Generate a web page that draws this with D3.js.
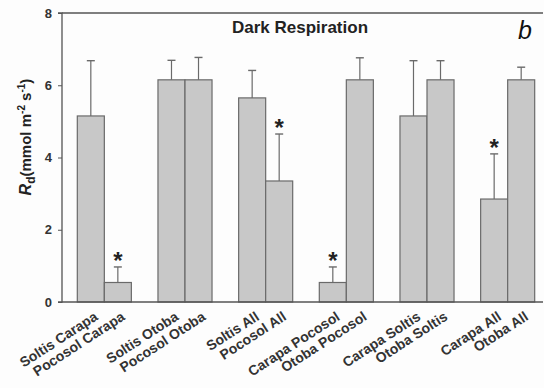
<!DOCTYPE html>
<html><head><meta charset="utf-8">
<script src="https://cdn.jsdelivr.net/npm/d3@7"></script>
<style>body{margin:0;background:#fdfdfd;} text{font-family:Arial,"Liberation Sans",sans-serif;}</style>
</head><body><svg id="c" width="544" height="388"></svg>
<script>
const groups = ["g1","g2","g3","g4","g5","g6"];
const labels = ["Soltis Carapa","Pocosol Carapa","Soltis Otoba","Pocosol Otoba","Soltis All","Pocosol All","Carapa Pocosol","Otoba Pocosol","Carapa Soltis","Otoba Soltis","Carapa All","Otoba All"];
const values = [5.15,0.54,6.15,6.15,5.65,3.35,0.54,6.15,5.15,6.15,2.85,6.15];
const errors = [1.53,0.43,0.54,0.62,0.76,1.30,0.43,0.61,1.53,0.53,1.25,0.35];
const stars  = [false,true,false,false,false,true,true,false,false,false,true,false];
const yTicks = [0,2,4,6,8];

const svg = d3.select("#c");
const pL=62, pR=543, pT=13, pB=302;
const y = d3.scaleLinear().domain([0,8]).range([pB, pT]);
const xg = d3.scaleBand().domain(groups).range([64,548]).paddingInner(0.33).paddingOuter(0.165);
const bw = xg.bandwidth()/2;
const xb = i => xg(groups[Math.floor(i/2)]) + (i%2)*bw;
const ink = "#6a6a6a";

svg.append("line").attr("x1",pL).attr("x2",pR).attr("y1",pT).attr("y2",pT).attr("stroke","#555").attr("stroke-width",1.3);

const data = labels.map((l,i)=>({l,v:values[i],e:errors[i],s:stars[i],i}));
svg.selectAll("rect.bar").data(data).enter().append("rect")
  .attr("x",d=>xb(d.i)).attr("width",bw)
  .attr("y",d=>y(d.v)).attr("height",d=>y(0)-y(d.v))
  .attr("fill","#c8c8c8").attr("stroke",ink).attr("stroke-width",1.2);
const eg = svg.selectAll("g.err").data(data).enter().append("g");
eg.append("line").attr("x1",d=>xb(d.i)+bw/2).attr("x2",d=>xb(d.i)+bw/2)
  .attr("y1",d=>y(d.v)).attr("y2",d=>y(d.v+d.e)).attr("stroke",ink).attr("stroke-width",1.2);
eg.append("line").attr("x1",d=>xb(d.i)+bw/2-4).attr("x2",d=>xb(d.i)+bw/2+4)
  .attr("y1",d=>y(d.v+d.e)).attr("y2",d=>y(d.v+d.e)).attr("stroke",ink).attr("stroke-width",1.4);
svg.selectAll("text.star").data(data.filter(d=>d.s)).enter().append("text")
  .attr("x",d=>xb(d.i)+bw/2).attr("y",d=>y(d.v+d.e)+2)
  .attr("text-anchor","middle").attr("font-size",24).attr("font-weight","bold").attr("fill","#222").text("*");

const ya = svg.append("g").attr("transform",`translate(${pL},0)`)
  .call(d3.axisLeft(y).tickValues(yTicks).tickSize(4).tickPadding(6).tickFormat(d3.format("d")));
ya.select(".domain").attr("stroke","#555").attr("stroke-width",1.3).attr("d",`M-4,${pB}H0V${pT}H-4`);
ya.selectAll(".tick line").attr("stroke","#555");
ya.selectAll(".tick text").attr("font-size",13).attr("font-weight","bold").attr("fill","#333");

svg.append("line").attr("x1",pL).attr("x2",pR).attr("y1",pB).attr("y2",pB).attr("stroke","#555").attr("stroke-width",1.3);

svg.selectAll("text.xl").data(data).enter().append("text")
  .attr("transform",d=>`translate(${xb(d.i)+bw/2+8},${pB+17}) rotate(-33)`)
  .attr("text-anchor","end").attr("font-size",14).attr("font-weight","bold").attr("fill","#333").text(d=>d.l);

const yt = svg.append("text").attr("transform",`translate(31,137) rotate(-90)`)
  .attr("text-anchor","middle").attr("font-size",15).attr("font-weight","bold").attr("fill","#222");
yt.append("tspan").attr("font-style","italic").attr("font-size",16).text("R");
yt.append("tspan").attr("dy",4).attr("font-size",12).text("d");
yt.append("tspan").attr("dy",-4).text("(mmol m");
yt.append("tspan").attr("dy",-6).attr("font-size",10).text("-2");
yt.append("tspan").attr("dy",6).text(" s");
yt.append("tspan").attr("dy",-6).attr("font-size",10).text("-1");
yt.append("tspan").attr("dy",6).text(")");

svg.append("text").attr("x",300).attr("y",33).attr("text-anchor","middle")
  .attr("font-size",17).attr("font-weight","bold").attr("fill","#222").text("Dark Respiration");
svg.append("text").attr("x",525).attr("y",39).attr("text-anchor","middle")
  .attr("font-family","'Liberation Serif','DejaVu Serif',serif").attr("font-style","italic")
  .attr("font-size",25).attr("fill","#111").text("b");
</script></body></html>
